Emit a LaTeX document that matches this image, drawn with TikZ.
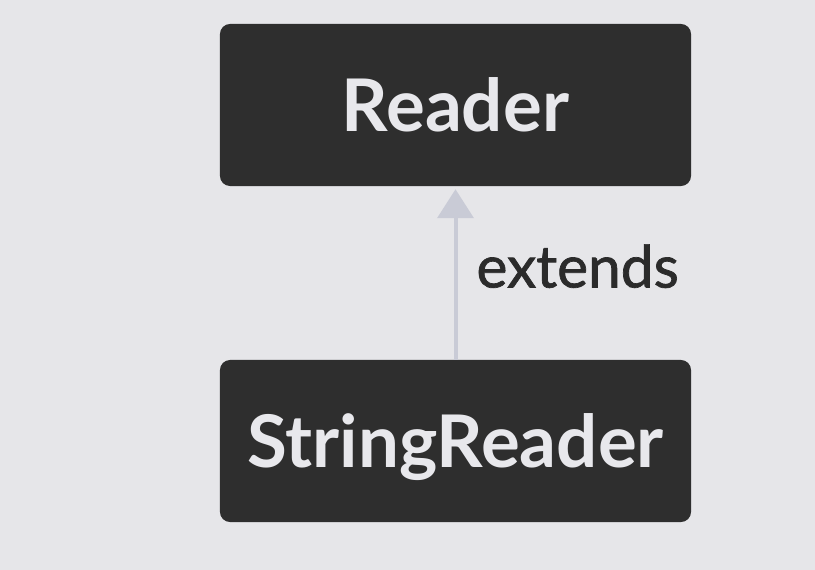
\documentclass[tikz,border=0pt]{standalone}
\usepackage{fontspec}
\setmainfont{Lato}
\newfontfamily\labelfont[FakeBold=1.2]{Lato}
\usetikzlibrary{arrows.meta}

\definecolor{canvas}{HTML}{E6E6E9}
\definecolor{boxfill}{HTML}{2E2E2E}
\definecolor{boxtext}{HTML}{E8E8EC}
\definecolor{linkgray}{HTML}{C9CBD6}
\definecolor{labeltext}{HTML}{2B2B2B}

\tikzset{
  classbox/.style={rectangle, rounded corners=0.3cm, fill=boxfill, text=boxtext,
    minimum width=14.13cm, minimum height=4.86cm, inner sep=0pt,
    text height=44.4pt, text depth=0pt,
    font=\fontsize{62}{62}\selectfont\bfseries},
  extendsline/.style={draw=linkgray, line width=0.12cm,
    -{Triangle[length=0.87cm, width=1.08cm, fill=linkgray]}, shorten >=0.09cm},
  extendslabel/.style={text=labeltext, inner sep=0pt, anchor=base west,
    font=\labelfont\fontsize{50}{50}\selectfont}
}

\begin{document}
\begin{tikzpicture}[x=0.03cm, y=-0.03cm]
  \fill[canvas] (0,0) rectangle (815,570);

  \node[classbox] (reader) at (455.5,105) {Reader};
  \node[classbox] (stringreader) at (455.5,441) {StringReader};

  \draw[extendsline] (stringreader.north) -- (reader.south)
    node[extendslabel, pos=0.5, xshift=0.57cm, yshift=-0.435cm] (extends) {extends};
\end{tikzpicture}
\end{document}
